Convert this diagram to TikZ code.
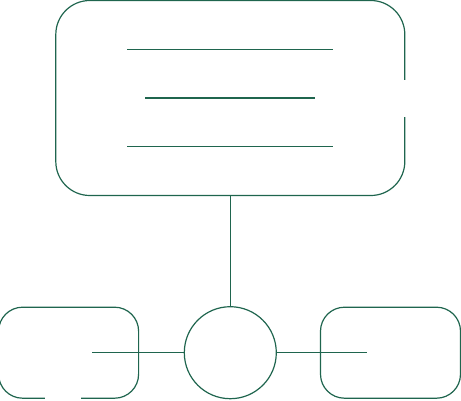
\documentclass[tikz,border=0pt]{standalone}
\usetikzlibrary{positioning, calc}
\definecolor{pine}{RGB}{31,101,78}
\tikzset{
	node distance=110pt and 44pt,
	every node/.style= {
		inner sep=0pt
	},
	panel/.style= {
		rectangle,
		rounded corners=34pt,
		draw=pine,
		minimum width=349pt,
		minimum height=195pt
	},
	tab/.style= {
		rectangle,
		rounded corners=24pt,
		draw=pine,
		minimum width=140pt,
		minimum height=91pt
	},
	hub/.style= {
		circle,
		draw=pine,
		minimum size=92pt
	},
	wire/.style= {
		pine
	}
}

\begin{document}
\begin{tikzpicture}[x=1pt, y=1pt, line width=1.2pt]
	\useasboundingbox (0,0) rectangle (461,400);
	
	\node (screen)[panel] at (230.3,302) {};
	\fill[white] ($(screen.east)+(-3,-19)$) rectangle ($(screen.east)+(3,18)$);
	
	% text lines
	\foreach[count=\i] \w/\dy in {206/48.7, 170/0, 206/-48.7}
	{
		\coordinate (t\i a) at ($(screen.center)+(-\w/2,\dy)$);
		\coordinate (t\i b) at ($(screen.center)+(\w/2,\dy)$);
		\draw[wire] (t\i a) -- (t\i b);
	}
	
	\node (hub)[hub, below = of screen] {};
	\draw[wire] (screen.south -| hub.north) -- (hub.north);
	
	\node (lefttab)[tab, left = 44.5pt of hub] {};
	\node (righttab)[tab, right = 43pt of hub] {};
	\fill[white] ($(lefttab.south west)+(47,-3)$) rectangle ($(lefttab.south west)+(83,3)$);
	
	\coordinate (lend) at ($(lefttab.west)+(94,0)$);
	\coordinate (rend) at ($(righttab.west)+(47,0)$);
	\draw[wire] (hub.west) -- (lend);
	\draw[wire] (hub.east) -- (rend);
\end{tikzpicture}
\end{document}
